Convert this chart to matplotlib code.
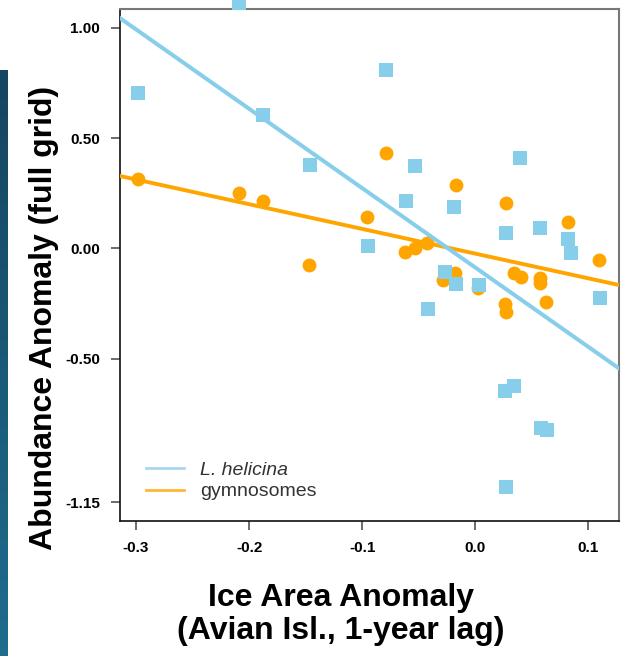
"""
ice area anomaly vs abundance anomaly scatter with fitted lines
"""
import numpy as np
import matplotlib
matplotlib.use("Agg")
import matplotlib.pyplot as plt

# L. helicina (squares)
heli_x = [-0.298, -0.1874, -0.1462, -0.2087, -0.0792, -0.0533, -0.0616, -0.0188,
          0.0395, 0.0271, 0.0572, 0.082, 0.0844, -0.0946, -0.0268, -0.0171,
          0.003, -0.0421, 0.1103, 0.0263, 0.0342, 0.0581, 0.0631, 0.0271]
heli_y = [0.705, 0.604, 0.378, 1.11, 0.808, 0.373, 0.216, 0.189,
          0.411, 0.071, 0.093, 0.041, -0.023, 0.012, -0.106, -0.162,
          -0.166, -0.277, -0.224, -0.645, -0.623, -0.816, -0.824, -1.083]

# gymnosomes (circles)
gymn_x = [-0.298, -0.2089, -0.1874, -0.1468, -0.0792, -0.0168, 0.0269, 0.0817,
          -0.0955, -0.0622, -0.0533, -0.043, 0.1096, -0.0283, -0.018, 0.0027,
          0.0342, 0.0401, 0.0572, 0.0572, 0.0263, 0.0269, 0.0625]
gymn_y = [0.314, 0.249, 0.214, -0.076, 0.433, 0.287, 0.204, 0.121,
          0.143, -0.015, 0.0, 0.023, -0.053, -0.144, -0.113, -0.181,
          -0.113, -0.129, -0.136, -0.159, -0.254, -0.287, -0.245]

# fitted lines (intercept, slope)
heli_fit = (-0.087, -3.598)
gymn_fit = (-0.024, -1.12)

xticks = [-0.3, -0.2, -0.1, 0.0, 0.1]
xtick_labels = ["-0.3", "-0.2", "-0.1", "0.0", "0.1"]
yticks = [1.00, 0.50, 0.00, -0.50, -1.15]
ytick_labels = ["1.00", "0.50", "0.00", "-0.50", "-1.15"]

BLUE = "#87CEEB"
ORANGE = "#FFA500"

plt.rcParams['font.family'] = ['Liberation Sans', 'DejaVu Sans']

fig = plt.figure(figsize=(6.42, 6.56), dpi=100)
ax = fig.add_axes([0.1874, 0.2058, 0.7768, 0.7812])

ax.scatter(gymn_x, gymn_y, s=100, marker='o', color=ORANGE, linewidths=0, zorder=2)
ax.scatter(heli_x, heli_y, s=108, marker='s', color=BLUE, linewidths=0, zorder=3,
           clip_on=False)
ax.axline((0, gymn_fit[0]), slope=gymn_fit[1], color=ORANGE, lw=2.8, zorder=4)
ax.axline((0, heli_fit[0]), slope=heli_fit[1], color=BLUE, lw=2.9, zorder=5)

ax.set_xlim(-0.3139, 0.1271)
ax.set_ylim(-1.236, 1.087)

ax.set_xticks(xticks)
ax.set_xticklabels(xtick_labels, fontsize=11, fontweight='bold')
ax.set_yticks(yticks)
ax.set_yticklabels(ytick_labels, fontsize=11, fontweight='bold')
ax.tick_params(axis='both', length=6.5, width=1.1, color='#444444', pad=8)

for side in ['left', 'bottom']:
    ax.spines[side].set_color('#111111')
    ax.spines[side].set_linewidth(1.2)
for side in ['top', 'right']:
    ax.spines[side].set_color('#777777')
    ax.spines[side].set_linewidth(1.5)

# legend
h1, = ax.plot([], [], color='#A8D8EE', lw=2)
h2, = ax.plot([], [], color='#FFB733', lw=2)
leg = ax.legend([h1, h2], ['L. helicina', 'gymnosomes'], loc='lower left',
                bbox_to_anchor=(0.0, -0.009), frameon=False, fontsize=14,
                handlelength=2.0, handletextpad=0.8, labelspacing=0.2,
                borderaxespad=0.9)
texts = leg.get_texts()
texts[0].set_fontstyle('italic')
for t in texts:
    t.set_color('#333333')

fig.text(0.068, 0.516, "Abundance Anomaly (full grid)", rotation=90,
         fontsize=23, fontweight='bold', ha='center', va='center')
fig.text(0.531, 0.063, "Ice Area Anomaly\n(Avian Isl., 1-year lag)",
         fontsize=23, fontweight='bold', ha='center', va='center',
         linespacing=1.15)

# dark strip on the left edge
strip = fig.add_axes([0, 0, 8 / 642, (656 - 70) / 656])
grad = np.linspace(0, 1, 100).reshape(-1, 1)
strip.imshow(grad, aspect='auto', cmap=matplotlib.colors.LinearSegmentedColormap.from_list(
    'strip', ['#154560', '#1F6C8E']))
strip.axis('off')

fig.savefig("out.png", dpi=100)
